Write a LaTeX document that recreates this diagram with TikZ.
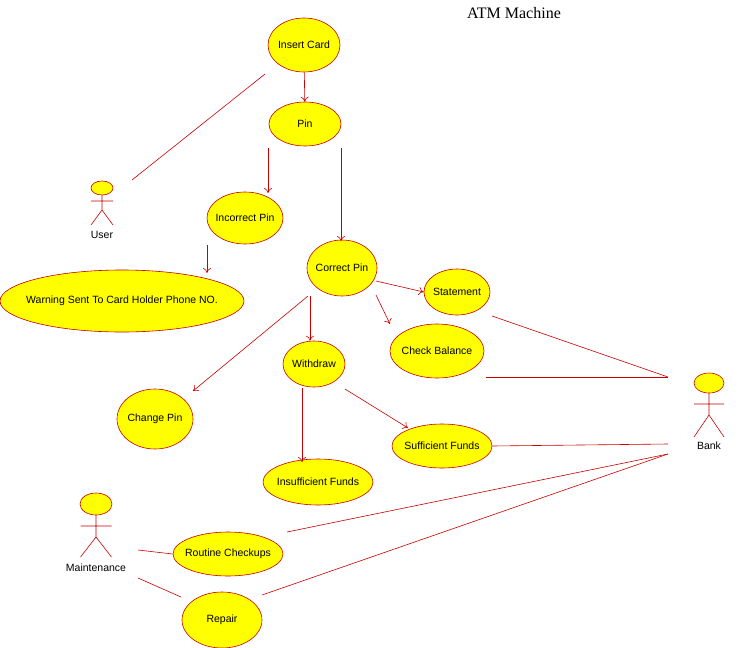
\documentclass[tikz,border=0pt]{standalone}
\usepackage{fontspec}
\setmainfont{Liberation Sans}
\newfontfamily\titlefont{Liberation Serif}
\usetikzlibrary{shapes.geometric,arrows.meta}
\definecolor{umlred}{RGB}{200,0,0}
\definecolor{umlyellow}{RGB}{255,255,0}
\begin{document}
\begin{tikzpicture}[x=1pt,y=-1pt,line width=0.6pt,
            use case/.style={ellipse,draw=umlred,fill=umlyellow,inner xsep=-14pt,inner ysep=-4pt,
                font=\fontsize{10.5}{12}\selectfont},
            actor label/.style={font=\fontsize{10.5}{12}\selectfont},
            link/.style={umlred},
            arr/.style={umlred,-{To[length=5pt,width=8pt]}},
            ]
            \useasboundingbox (0,0) rectangle (750,648);
            \node[font=\titlefont\fontsize{16}{18}\selectfont] (title) at (514,13) {ATM Machine};

            % use cases
            \node[use case, minimum width=72, minimum height=54] (insert) at (304,45) {Insert Card};
            \node[use case, minimum width=72, minimum height=44] (pin) at (305,124) {Pin};
            \node[use case, minimum width=76, minimum height=52] (incorrect) at (245,218) {Incorrect Pin};
            \node[use case, minimum width=244, minimum height=62] (warning) at (122,301) {Warning Sent To Card Holder Phone NO.};
            \node[use case, minimum width=70, minimum height=56] (correct) at (342,268) {Correct Pin};
            \node[use case, minimum width=66, minimum height=46] (statement) at (457,292) {Statement};
            \node[use case, minimum width=94, minimum height=54] (balance) at (437,351) {Check Balance};
            \node[use case, minimum width=62, minimum height=46] (withdraw) at (314,364) {Withdraw};
            \node[use case, minimum width=76, minimum height=60] (changepin) at (155,419) {Change Pin};
            \node[use case, minimum width=100, minimum height=44] (sufficient) at (442,446) {Sufficient Funds};
            \node[use case, minimum width=110, minimum height=46] (insufficient) at (318,482) {Insufficient Funds};
            \node[use case, minimum width=110, minimum height=44] (routine) at (228,554) {Routine Checkups};
            \node[use case, minimum width=80, minimum height=56] (repair) at (222,620) {Repair};

            % actors: name/x/head y/head rx/head ry/arm dy/body dy/leg dy/half width/label y/text
            \foreach \name/\x/\y/\rx/\ry/\ad/\bd/\ld/\w/\ly/\txt in {
                user/102/188/11/7/13/22/37/11/235/User,
                bank/709/383/15/10/21/32/54/15/446/Bank,
                maint/96/504/16/11/22/33/53/15.5/568/Maintenance}{
                \draw[umlred,fill=umlyellow] (\x,\y) ellipse[x radius=\rx, y radius=\ry];
                \draw[umlred] (\x,\y+\ry) -- (\x,\y+\bd) (\x-\w,\y+\ad) -- (\x+\w,\y+\ad)
                    (\x-\w,\y+\ld) -- (\x,\y+\bd) -- (\x+\w,\y+\ld);
                \node[actor label] (\name) at (\x,\ly) {\txt};
            }

            % end points
            \coordinate (userhand) at (132,180);
            \coordinate (bankhand) at (668,377);
            \coordinate (bankfoot) at (668,444);
            \coordinate (bankleg) at (668,454);
            \coordinate (mainthand) at (138,550);
            \coordinate (maintfoot) at (138,578);

            \draw[arr] (insert) -- (pin);
            \draw[arr] (268,148) -- (268,193);
            \draw[arr] (341,148) -- (341,241);
            \draw[arr] (207,245) -- (207,273);
            \draw[arr] (376,281) -- (statement.west);
            \draw[arr] (376,295) -- (390,324);
            \draw[arr] (310,296) -- (withdraw.north -| 310,0);
            \draw[arr] (308,296) -- (193,391);
            \draw[arr] (302,388) -- (302,462);
            \draw[arr] (345,389) -- (408,428);

            \draw[link] (userhand) -- (265,74);
            \draw[link] (492,316) -- (bankhand);
            \draw[link] (486,377) -- (bankhand);
            \draw[link] (sufficient.east) -- (bankfoot);
            \draw[link] (287,532) -- (bankleg);
            \draw[link] (262,595) -- (bankleg);
            \draw[link] (mainthand) -- (routine.west);
            \draw[link] (maintfoot) -- (181,597);
        \end{tikzpicture}
\end{document}
